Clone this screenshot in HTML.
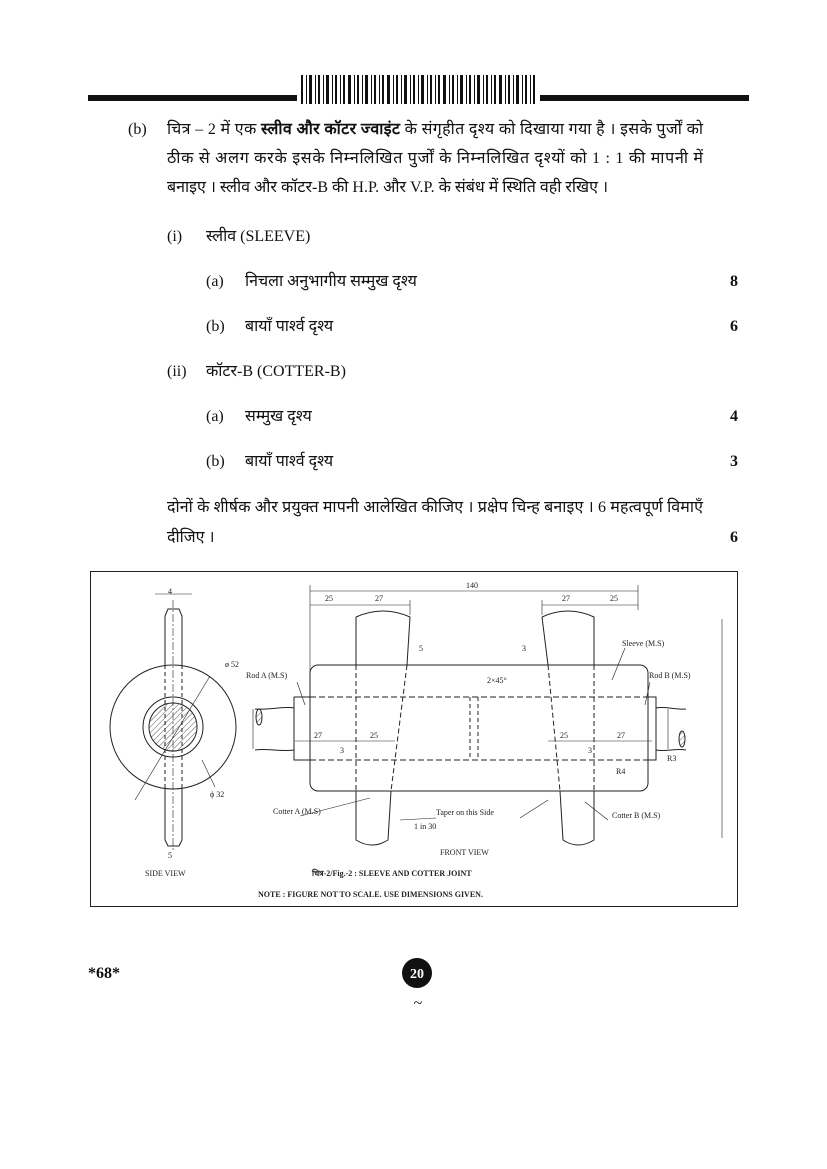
<!DOCTYPE html>
<html><head><meta charset="utf-8"><style>
html,body{margin:0;padding:0;background:#fff}
svg{display:block}
.t{font-family:"Liberation Serif","Noto Sans CJK SC",serif;font-size:16px;fill:#111}
.s{font-family:"Liberation Serif",serif;font-size:8px;fill:#222}
</style></head><body>
<svg width="827" height="1169" viewBox="0 0 827 1169" xmlns="http://www.w3.org/2000/svg">
<rect x="88" y="95" width="209" height="6" fill="#111"/>
<rect x="540" y="95" width="209" height="6" fill="#111"/>
<g fill="#111">
<rect x="301" y="75" width="2" height="29"/><rect x="306" y="75" width="1" height="29"/><rect x="309" y="75" width="3" height="29"/><rect x="315" y="75" width="1" height="29"/><rect x="318" y="75" width="2" height="29"/><rect x="323" y="75" width="1" height="29"/><rect x="326" y="75" width="3" height="29"/><rect x="332" y="75" width="1" height="29"/><rect x="335" y="75" width="2" height="29"/><rect x="340" y="75" width="1" height="29"/><rect x="343" y="75" width="2" height="29"/><rect x="348" y="75" width="3" height="29"/><rect x="354" y="75" width="1" height="29"/><rect x="357" y="75" width="2" height="29"/><rect x="362" y="75" width="1" height="29"/><rect x="365" y="75" width="3" height="29"/><rect x="371" y="75" width="1" height="29"/><rect x="374" y="75" width="2" height="29"/><rect x="379" y="75" width="1" height="29"/><rect x="382" y="75" width="2" height="29"/><rect x="387" y="75" width="3" height="29"/><rect x="393" y="75" width="1" height="29"/><rect x="396" y="75" width="2" height="29"/><rect x="401" y="75" width="1" height="29"/><rect x="404" y="75" width="3" height="29"/><rect x="410" y="75" width="1" height="29"/><rect x="413" y="75" width="2" height="29"/><rect x="418" y="75" width="1" height="29"/><rect x="421" y="75" width="3" height="29"/><rect x="427" y="75" width="1" height="29"/><rect x="430" y="75" width="2" height="29"/><rect x="435" y="75" width="1" height="29"/><rect x="438" y="75" width="2" height="29"/><rect x="443" y="75" width="3" height="29"/><rect x="449" y="75" width="1" height="29"/><rect x="452" y="75" width="2" height="29"/><rect x="457" y="75" width="1" height="29"/><rect x="460" y="75" width="3" height="29"/><rect x="466" y="75" width="1" height="29"/><rect x="469" y="75" width="2" height="29"/><rect x="474" y="75" width="1" height="29"/><rect x="477" y="75" width="3" height="29"/><rect x="483" y="75" width="1" height="29"/><rect x="486" y="75" width="2" height="29"/><rect x="491" y="75" width="1" height="29"/><rect x="494" y="75" width="2" height="29"/><rect x="499" y="75" width="3" height="29"/><rect x="505" y="75" width="1" height="29"/><rect x="508" y="75" width="2" height="29"/><rect x="513" y="75" width="1" height="29"/><rect x="516" y="75" width="3" height="29"/><rect x="522" y="75" width="1" height="29"/><rect x="525" y="75" width="2" height="29"/><rect x="530" y="75" width="1" height="29"/><rect x="533" y="75" width="2" height="29"/>
</g>
<text class="t" x="128" y="134">(b)</text>
<text class="t" x="167" y="134" textLength="536">चित्र – 2 में एक <tspan font-weight="bold">स्लीव और कॉटर ज्वाइंट</tspan> के संगृहीत दृश्य को दिखाया गया है । इसके पुर्जों को</text>
<text class="t" x="167" y="163" textLength="536">ठीक से अलग करके इसके निम्नलिखित पुर्जों के निम्नलिखित दृश्यों को 1 : 1 की मापनी में</text>
<text class="t" x="167" y="192">बनाइए । स्लीव और कॉटर-B की H.P. और V.P. के संबंध में स्थिति वही रखिए ।</text>
<text class="t" x="167" y="241">(i)</text><text class="t" x="206" y="241">स्लीव (SLEEVE)</text>
<text class="t" x="206" y="286">(a)</text><text class="t" x="245" y="286">निचला अनुभागीय सम्मुख दृश्य</text><text class="t" x="730" y="286" font-weight="bold">8</text>
<text class="t" x="206" y="331">(b)</text><text class="t" x="245" y="331">बायाँ पार्श्व दृश्य</text><text class="t" x="730" y="331" font-weight="bold">6</text>
<text class="t" x="167" y="376">(ii)</text><text class="t" x="206" y="376">कॉटर-B (COTTER-B)</text>
<text class="t" x="206" y="421">(a)</text><text class="t" x="245" y="421">सम्मुख दृश्य</text><text class="t" x="730" y="421" font-weight="bold">4</text>
<text class="t" x="206" y="466">(b)</text><text class="t" x="245" y="466">बायाँ पार्श्व दृश्य</text><text class="t" x="730" y="466" font-weight="bold">3</text>
<text class="t" x="167" y="512" textLength="536">दोनों के शीर्षक और प्रयुक्त मापनी आलेखित कीजिए । प्रक्षेप चिन्ह बनाइए । 6 महत्वपूर्ण विमाएँ</text>
<text class="t" x="167" y="542">दीजिए ।</text><text class="t" x="730" y="542" font-weight="bold">6</text>

<rect x="90.5" y="571.5" width="647" height="335" fill="none" stroke="#222" stroke-width="1"/>
<defs><pattern id="h" width="4" height="4" patternUnits="userSpaceOnUse" patternTransform="rotate(45)"><line x1="0" y1="0" x2="0" y2="4" stroke="#333" stroke-width="0.8"/></pattern></defs>
<g fill="none" stroke="#222" stroke-width="1">
<ellipse cx="173" cy="727" rx="63" ry="62"/>
<circle cx="173" cy="727" r="30"/>
<circle cx="173" cy="727" r="24" fill="url(#h)"/>
<path d="M165 665 V616 L168 609 H179 L182 616 V665"/>
<path d="M165 789 V840 L168 846 H179 L182 840 V789"/>
<path d="M165 665 V789 M182 665 V789" stroke-dasharray="4 3"/>
<line x1="173" y1="600" x2="173" y2="850" stroke-dasharray="8 2 2 2" stroke-width="0.6"/>
<line x1="135" y1="800" x2="210" y2="676" stroke-width="0.6"/>
<line x1="202" y1="760" x2="215" y2="787" stroke-width="0.6"/>
<line x1="155" y1="594" x2="192" y2="594" stroke-width="0.6"/>
<rect x="310" y="665" width="338" height="126" rx="8"/>
<path d="M294 697 H310 M648 697 H656 V760 H648 M294 697 V760 H310"/>
<path d="M310 697 H648 M310 760 H648" stroke-dasharray="6 3"/>
<path d="M294 708 C285 706 270 710 255 709 M294 750 C280 752 268 748 255 750"/>
<path d="M656 708 C665 706 675 710 686 709 M656 750 C666 752 676 748 686 750"/>
<ellipse cx="259" cy="717" rx="3" ry="8" fill="url(#h)"/>
<ellipse cx="682" cy="739" rx="3" ry="8" fill="url(#h)"/>
<path d="M356 617 Q383 605 410 617 L407 665 M356 617 V665 M356 791 V840 Q372 850 388 840 L391 791"/>
<path d="M356 665 V791 M407 665 L391 791" stroke-dasharray="5 3"/>
<path d="M542 617 Q568 605 594 617 V665 M542 617 L548 665 M594 791 V840 Q578 850 563 840 L560 791"/>
<path d="M594 665 V791 M548 665 L560 791" stroke-dasharray="5 3"/>
<path d="M470 697 V760 M478 697 V760" stroke-dasharray="4 3"/>
<g stroke-width="0.6">
<line x1="310" y1="591" x2="638" y2="591"/>
<line x1="310" y1="605" x2="410" y2="605"/>
<line x1="542" y1="605" x2="638" y2="605"/>
<line x1="310" y1="585" x2="310" y2="697"/>
<line x1="410" y1="600" x2="410" y2="615"/>
<line x1="542" y1="600" x2="542" y2="615"/>
<line x1="638" y1="585" x2="638" y2="610"/>
<line x1="722" y1="619" x2="722" y2="838"/>
<line x1="295" y1="741" x2="395" y2="741"/>
<line x1="548" y1="741" x2="652" y2="741"/>
<line x1="253" y1="709" x2="253" y2="749"/>
<line x1="668" y1="709" x2="668" y2="749"/>
<line x1="297" y1="682" x2="305" y2="705"/>
<line x1="650" y1="682" x2="645" y2="705"/>
<line x1="300" y1="816" x2="370" y2="798"/>
<line x1="436" y1="818" x2="400" y2="820"/>
<line x1="520" y1="818" x2="548" y2="800"/>
<line x1="608" y1="820" x2="585" y2="802"/>
<line x1="625" y1="648" x2="612" y2="680"/>
</g>
</g>
<g class="s">
<text x="168" y="594">4</text>
<text x="225" y="667">ø 52</text>
<text x="210" y="797">ϕ 32</text>
<text x="168" y="858">5</text>
<text x="145" y="876">SIDE VIEW</text>
<text x="325" y="601">25</text><text x="375" y="601">27</text><text x="466" y="588">140</text>
<text x="562" y="601">27</text><text x="610" y="601">25</text>
<text x="246" y="678">Rod A (M.S)</text>
<text x="649" y="678">Rod B (M.S)</text>
<text x="622" y="646">Sleeve (M.S)</text>
<text x="419" y="651">5</text><text x="522" y="651">3</text>
<text x="487" y="683">2×45°</text>
<text x="314" y="738">27</text><text x="370" y="738">25</text>
<text x="560" y="738">25</text><text x="617" y="738">27</text>
<text x="340" y="753">3</text><text x="588" y="753">3</text>
<text x="616" y="774">R4</text><text x="667" y="761">R3</text>
<text x="273" y="814">Cotter A (M.S)</text>
<text x="436" y="815">Taper on this Side</text>
<text x="414" y="829">1 in 30</text>
<text x="612" y="818">Cotter B (M.S)</text>
<text x="440" y="855">FRONT VIEW</text>
<text x="312" y="876" font-weight="bold">चित्र-2/Fig.-2 : SLEEVE AND COTTER JOINT</text>
<text x="258" y="897" font-weight="bold">NOTE : FIGURE NOT TO SCALE. USE DIMENSIONS GIVEN.</text>
</g>
<text class="t" x="88" y="978" font-weight="bold">*68*</text>
<circle cx="417" cy="973" r="15" fill="#111"/>
<text x="417" y="978" text-anchor="middle" font-family="Liberation Serif,serif" font-size="14" font-weight="bold" fill="#fff">20</text>
<text x="418" y="1008" text-anchor="middle" class="t">~</text>
</svg>
</body></html>
